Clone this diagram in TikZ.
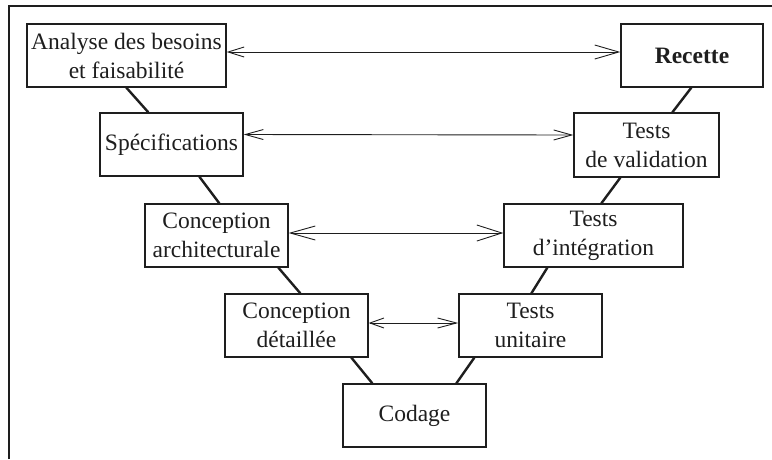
\documentclass[tikz,border=0pt]{standalone}
\usepackage{fontspec}
\setmainfont{Liberation Serif}
\usetikzlibrary{arrows.meta}
\definecolor{ink}{HTML}{1E1E1E}
\tikzset{
  box/.style={draw=ink, line width=1.3pt, rectangle, inner sep=0pt, align=center,
    font=\fontsize{23.5}{29}\selectfont, text=ink},
  link/.style={draw=ink, line width=2.4pt},
  dual/.style={draw=ink, line width=0.9pt},
  frame/.style={draw=ink, line width=1.3pt}
}
\begin{document}
\begin{tikzpicture}[x=1pt,y=-1pt]
\useasboundingbox (0,0) rectangle (772,459);
\draw[frame] (9,459) -- (9,6) -- (772,6);
% left branch
\node[box, minimum width=199pt, minimum height=63pt] (ana) at (126.5,55.5) {Analyse des besoins\\et faisabilité};
\node[box, minimum width=143pt, minimum height=63pt] (spec) at (171.5,144.5) {Spécifications};
\node[box, minimum width=143pt, minimum height=63pt] (ca) at (216.5,235.5) {Conception\\architecturale};
\node[box, minimum width=143pt, minimum height=63pt] (cd) at (296.5,325.5) {Conception\\détaillée};
\node[box, minimum width=143pt, minimum height=63pt] (cod) at (414.5,415.5) {Codage};
% right branch
\node[box, minimum width=142pt, minimum height=63pt] (rec) at (692,55.5) {\bfseries Recette};
\node[box, minimum width=145pt, minimum height=64pt] (tv) at (646.5,145) {Tests\\de validation};
\node[box, minimum width=179pt, minimum height=63pt] (ti) at (593.5,235.5) {Tests\\d’intégration};
\node[box, minimum width=143pt, minimum height=63pt] (tu) at (530.5,325.5) {Tests\\unitaire};
% V links
\draw[link] ([xshift=100pt]ana.south west) -- ([xshift=49pt]spec.north west);
\draw[link] ([xshift=100pt]spec.south west) -- ([xshift=75pt]ca.north west);
\draw[link] ([xshift=134pt]ca.south west) -- ([xshift=76pt]cd.north west);
\draw[link] ([xshift=127pt]cd.south west) -- ([xshift=30pt]cod.north west);
\draw[link] ([xshift=71pt]rec.south west) -- ([xshift=99pt]tv.north west);
\draw[link] ([xshift=47pt]tv.south west) -- ([xshift=98pt]ti.north west);
\draw[link] ([xshift=44pt]ti.south west) -- ([xshift=73pt]tu.north west);
\draw[link] ([xshift=16pt]tu.south west) -- ([xshift=114pt]cod.north west);
% horizontal correspondences
\draw[dual, arrows={Straight Barb[length=16pt,width=10pt]-Straight Barb[length=24pt,width=14pt]}]
  ([yshift=3.5pt]ana.east) -- ([yshift=3.5pt]rec.west);
\draw[dual, arrows={Straight Barb[length=18pt,width=10pt]-Straight Barb[length=18pt,width=10pt]}]
  ([yshift=10pt]spec.east) -- ([yshift=10pt]tv.west);
\draw[dual, arrows={Straight Barb[length=25pt,width=14pt]-Straight Barb[length=25pt,width=16pt]}]
  ([yshift=2.5pt]ca.east) -- ([yshift=2.5pt]ti.west);
\draw[dual, arrows={Straight Barb[length=14pt,width=10pt]-Straight Barb[length=19pt,width=10pt]}]
  ([yshift=2.5pt]cd.east) -- ([yshift=2.5pt]tu.west);
\end{tikzpicture}
\end{document}
